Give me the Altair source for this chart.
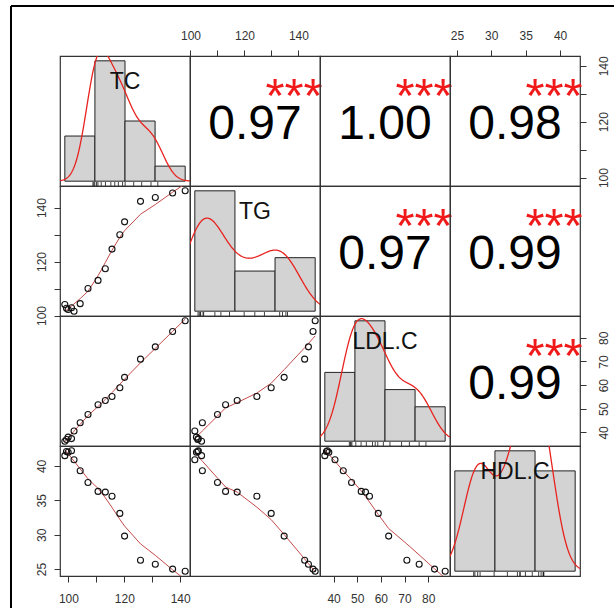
import altair as alt
import numpy as np
import pandas as pd

# ---------------- data ----------------
VAR_LABELS = ["TC", "TG", "LDL.C", "HDL.C"]
VAR_FIELDS = ["TC", "TG", "LDL_C", "HDL_C"]

TC = [98.7, 99.3, 99.9, 101.1, 102.0, 104.2, 107.0, 110.6, 113.2, 115.6,
      118.4, 120.1, 125.8, 131.1, 137.3, 141.8]
TG = [104.1, 102.7, 102.2, 102.9, 101.6, 104.4, 110.0, 113.0, 117.3, 124.6,
      129.9, 134.7, 142.3, 143.7, 145.4, 146.2]
LDL_C = [36.3, 37.0, 38.0, 37.4, 40.6, 44.1, 47.6, 51.7, 53.5, 55.2,
         58.9, 63.3, 71.0, 76.2, 82.7, 87.2]
HDL_C = [41.5, 42.1, 42.0, 42.2, 40.9, 39.3, 37.6, 36.3, 36.2, 35.6,
         33.1, 29.8, 26.3, 25.7, 25.0, 24.7]

# upper-triangle correlation texts
COR_PAIRS = [(0, 1), (0, 2), (0, 3), (1, 2), (1, 3), (2, 3)]
COR_LABELS = ["0.97", "1.00", "0.98", "0.97", "0.99", "0.99"]
SIGNIF = ["***", "***", "***", "***", "***", "***"]

# histogram breaks of the diagonal panels
BREAKS_TC = [80, 100, 120, 140, 160]
BREAKS_TG = [100, 120, 140, 160]
BREAKS_LDL = [20, 40, 60, 80, 100]
BREAKS_HDL = [20, 30, 40, 50]

# axis ticks and labelled ticks
TICKS_TC = [100, 110, 120, 130, 140]
TICKS_TG = [100, 110, 120, 130, 140]
TICKS_LDL = [40, 50, 60, 70, 80]
TICKS_HDL = [25, 30, 35, 40]
LABELS_TC = [100, 120, 140]
LABELS_TG = [100, 120, 140]
LABELS_LDL = [40, 50, 60, 70, 80]
LABELS_HDL = [25, 30, 35, 40]

# ---------------- helpers ----------------
df = pd.DataFrame({"TC": TC, "TG": TG, "LDL_C": LDL_C, "HDL_C": HDL_C})
N = len(df)
BREAKS = dict(zip(VAR_FIELDS, [BREAKS_TC, BREAKS_TG, BREAKS_LDL, BREAKS_HDL]))
TICKS = dict(zip(VAR_FIELDS, [TICKS_TC, TICKS_TG, TICKS_LDL, TICKS_HDL]))
LABS = dict(zip(VAR_FIELDS, [LABELS_TC, LABELS_TG, LABELS_LDL, LABELS_HDL]))

FONT = "Liberation Sans"
CELL = 130
RED = "#e8231f"
SMOOTH = "#c44a4a"
STAR_RED = "#f01a1a"


def ext(lo, hi, f=0.04):
    d = hi - lo
    return [float(lo - f * d), float(hi + f * d)]


def frac(dom, t):
    return dom[0] + t * (dom[1] - dom[0])


DOM = {f: ext(df[f].min(), df[f].max()) for f in VAR_FIELDS}

X_AXES = {(0, 1): "top", (0, 3): "top", (3, 0): "bottom", (3, 2): "bottom"}
Y_AXES = {(1, 0): "left", (3, 0): "left", (0, 3): "right", (2, 3): "right"}


def make_axis(f, orient):
    cond = " || ".join(f"datum.value == {v}" for v in LABS[f])
    kw = dict(orient=orient, values=TICKS[f], labelExpr=f"({cond}) ? datum.label : ''",
              title=None, domain=False, grid=False, ticks=True, tickSize=6,
              tickColor="#333", tickWidth=1, labelFont=FONT, labelFontSize=12,
              labelColor="#333", labelFlush=False, labelOverlap=False)
    if orient == "top":
        kw.update(labelPadding=7.5)
    elif orient == "bottom":
        kw.update(labelPadding=11)
    elif orient == "left":
        kw.update(labelAngle=270, labelAlign="center", labelBaseline="alphabetic", labelPadding=9)
    else:
        kw.update(labelAngle=270, labelAlign="center", labelBaseline="top", labelPadding=12)
    return alt.Axis(**kw)


def axes_of(i, j):
    ax = make_axis(VAR_FIELDS[j], X_AXES[(i, j)]) if (i, j) in X_AXES else None
    ay = make_axis(VAR_FIELDS[i], Y_AXES[(i, j)]) if (i, j) in Y_AXES else None
    return ax, ay


def scale(dom):
    return alt.Scale(domain=dom, nice=False, zero=False)


def scatter_cell(i, j):
    fx, fy = VAR_FIELDS[j], VAR_FIELDS[i]
    ax, ay = axes_of(i, j)
    sx, sy = scale(DOM[fx]), scale(DOM[fy])
    pts = alt.Chart(df).mark_point(shape="circle", filled=False, size=36, color="#111",
                                   strokeWidth=1.1, opacity=1).encode(
        x=alt.X(fx, type="quantitative", scale=sx, axis=ax),
        y=alt.Y(fy, type="quantitative", scale=sy, axis=ay))
    smooth = alt.Chart(df).transform_loess(fx, fy, bandwidth=2 / 3).mark_line(
        color=SMOOTH, strokeWidth=1, clip=True).encode(
        x=alt.X(fx, type="quantitative", scale=sx, axis=ax),
        y=alt.Y(fy, type="quantitative", scale=sy, axis=ay))
    return alt.layer(smooth, pts).properties(width=CELL, height=CELL)


def cor_cell(i, j):
    fx, fy = VAR_FIELDS[j], VAR_FIELDS[i]
    ax, ay = axes_of(i, j)
    sx, sy = scale(DOM[fx]), scale(DOM[fy])
    k = COR_PAIRS.index((i, j))
    num = alt.Chart(alt.Data(values=[{"t": COR_LABELS[k]}])).mark_text(
        font=FONT, fontSize=48, color="#000", align="center", baseline="middle").encode(
        x=alt.XDatum(datum=frac(DOM[fx], 0.5), type="quantitative", scale=sx, axis=ax),
        y=alt.YDatum(datum=frac(DOM[fy], 0.467), type="quantitative", scale=sy, axis=ay),
        text="t:N")
    star = alt.Chart(alt.Data(values=[{"t": SIGNIF[k]}])).mark_text(
        font=FONT, fontSize=49, color=STAR_RED, align="center", baseline="middle").encode(
        x=alt.XDatum(datum=frac(DOM[fx], 0.8), type="quantitative", scale=sx, axis=ax),
        y=alt.YDatum(datum=frac(DOM[fy], 0.685), type="quantitative", scale=sy, axis=ay),
        text="t:N")
    return alt.layer(num, star).properties(width=CELL, height=CELL)


def diag_cell(i, frame=False):
    f = VAR_FIELDS[i]
    br = BREAKS[f]
    vals = df[f].to_numpy()
    counts = pd.cut(vals, bins=br, right=True, include_lowest=True).value_counts().sort_index().to_numpy()
    widths = np.diff(br)
    dens = counts / (N * widths)
    hist = pd.DataFrame({"b0": br[:-1], "b1": br[1:], "dens": dens})
    hx = scale(ext(br[0], br[-1]))
    dmax = float(dens.max())
    ydom = [-0.04 * dmax, 1.04 * dmax]
    hy = scale(ydom)
    # R bw.nrd0
    sd = np.std(vals, ddof=1)
    iqr = np.subtract(*np.percentile(vals, [75, 25]))
    bw = 0.9 * min(sd, iqr / 1.34) * N ** (-0.2)
    bars = alt.Chart(hist).mark_rect(fill="#d3d3d3", stroke="#222", strokeWidth=1).encode(
        x=alt.X("b0:Q", scale=hx, axis=None), x2="b1:Q",
        y=alt.Y("dens:Q", scale=hy, axis=None), y2=alt.datum(0))
    dline = alt.Chart(df).transform_density(
        f, as_=["value", "density"], bandwidth=float(bw),
        extent=[float(vals.min() - 3 * bw), float(vals.max() + 3 * bw)], steps=256
    ).mark_line(color=RED, strokeWidth=1.3, clip=True).encode(
        x=alt.X("value:Q", scale=hx, axis=None),
        y=alt.Y("density:Q", scale=hy, axis=None))
    rug = alt.Chart(df).mark_rule(color="#111", strokeWidth=0.8).encode(
        x=alt.X(f, type="quantitative", scale=hx, axis=None),
        y=alt.value(CELL), y2=alt.value(CELL - 4))
    lab = alt.Chart(alt.Data(values=[{"t": VAR_LABELS[i]}])).mark_text(
        font=FONT, fontSize=23, color="#111", align="center", baseline="middle").encode(
        x=alt.XDatum(datum=frac(hx.domain, 0.5), type="quantitative", scale=hx, axis=None),
        y=alt.YDatum(datum=frac(ydom, 0.8), type="quantitative", scale=hy, axis=None),
        text="t:N")
    layers = [bars, dline, rug, lab]
    if frame:
        top = alt.Chart(alt.Data(values=[{}])).mark_rule(color="#000", strokeWidth=2).encode(
            x=alt.value(-49), x2=alt.value(554), y=alt.value(-50))
        left = alt.Chart(alt.Data(values=[{}])).mark_rule(color="#000", strokeWidth=2).encode(
            x=alt.value(-49), y=alt.value(-50), y2=alt.value(552))
        layers += [top, left]
    return alt.layer(*layers).properties(width=CELL, height=CELL)


cells = []
for i in range(4):
    for j in range(4):
        if i == j:
            cells.append(diag_cell(i, frame=(i == 0)))
        elif i > j:
            cells.append(scatter_cell(i, j))
        else:
            cells.append(cor_cell(i, j))

chart = alt.concat(*cells, columns=4, spacing=0, bounds="flush").resolve_scale(
    x="independent", y="independent"
).properties(
    padding={"left": 9, "top": 4, "right": 0, "bottom": 0},
    background="white",
).configure_view(stroke="#333", strokeWidth=1.2)

chart.save("out.html", embed_options={"renderer": "svg", "actions": False})
